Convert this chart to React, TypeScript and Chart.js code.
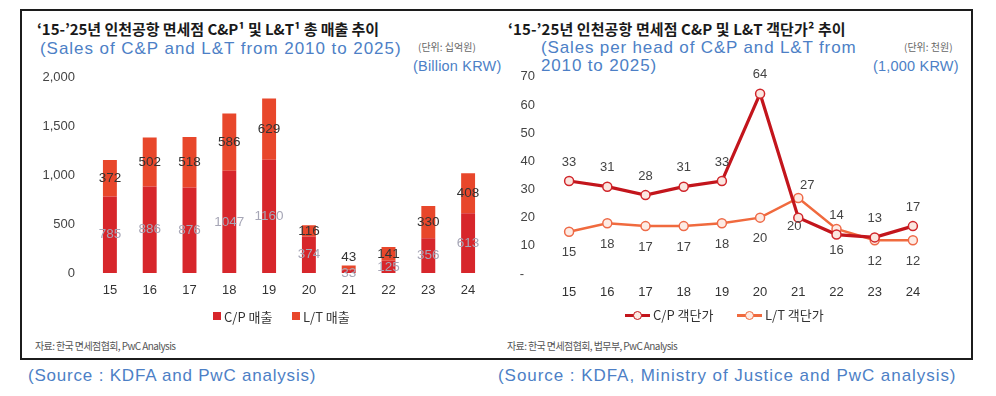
import React, { useEffect, useRef } from 'react';
import { Chart, registerables } from 'chart.js';

Chart.register(...registerables);

// ---------- data ----------
const years = ['15', '16', '17', '18', '19', '20', '21', '22', '23', '24'];
const cpSales = [785, 886, 876, 1047, 1160, 374, 33, 125, 356, 613];
const ltSales = [372, 502, 518, 586, 629, 116, 43, 141, 330, 408];
const salesTicks = [0, 500, 1000, 1500, 2000];
const cpPerHead = [33, 31, 28, 31, 33, 64, 20, 14, 13, 17];
const ltPerHead = [15, 18, 17, 17, 18, 20, 27, 16, 12, 12];
const perHeadTicks = [0, 10, 20, 30, 40, 50, 60, 70];

const KR = '"Noto Sans CJK KR", "Noto Sans", sans-serif';
const EN = '"Liberation Sans", Arial, sans-serif';
const BLUE = '#4d7fc6';

const CP_BAR = '#d7262b';
const LT_BAR = '#e8472b';
const CP_LINE = '#c3151c';
const LT_LINE = '#f06a3e';

const barLabelPlugin = {
  id: 'barLabels',
  afterDatasetsDraw(chart: any) {
    const ctx = chart.ctx;
    ctx.save();
    ctx.font = `13.5px ${EN}`;
    ctx.textAlign = 'center';
    ctx.textBaseline = 'middle';
    chart.data.datasets.forEach((ds: any, di: number) => {
      const meta = chart.getDatasetMeta(di);
      meta.data.forEach((el: any, i: number) => {
        const p = el.getProps(['x', 'y', 'base'], true);
        const h = p.base - p.y;
        let ty = (p.y + p.base) / 2;
        if (di === 1 && h < 10) ty = p.y - 8;
        if (di === 0 && h < 8) ty = p.base;
        ctx.fillStyle = di === 0 ? '#a6a6b6' : '#333333';
        ctx.fillText(String(ds.data[i]), p.x, ty);
      });
    });
    ctx.restore();
  },
};

const lineLabelPlugin = {
  id: 'lineLabels',
  afterDatasetsDraw(chart: any) {
    const ctx = chart.ctx;
    ctx.save();
    ctx.font = `13px ${EN}`;
    ctx.textAlign = 'center';
    ctx.textBaseline = 'middle';
    ctx.fillStyle = '#444444';
    chart.data.datasets.forEach((ds: any, di: number) => {
      const meta = chart.getDatasetMeta(di);
      meta.data.forEach((el: any, i: number) => {
        const p = el.getProps(['x', 'y'], true);
        let dx = 0;
        let dy = di === 0 ? -19 : 21;
        if (i === 6) {
          if (di === 0) { dx = -4; dy = 9; } else { dx = 9; dy = -13; }
        }
        ctx.fillText(String(ds.data[i]), p.x + dx, p.y + dy);
      });
    });
    ctx.restore();
  },
};

function SalesChart() {
  const ref = useRef<HTMLCanvasElement | null>(null);
  useEffect(() => {
    if (!ref.current) return;
    const chart = new Chart(ref.current, {
      type: 'bar',
      data: {
        labels: years,
        datasets: [
          { label: 'C/P 매출', data: cpSales, backgroundColor: CP_BAR, barPercentage: 0.35, categoryPercentage: 1 },
          { label: 'L/T 매출', data: ltSales, backgroundColor: LT_BAR, barPercentage: 0.35, categoryPercentage: 1 },
        ],
      },
      options: {
        animation: false,
        responsive: false,
        maintainAspectRatio: false,
        layout: { padding: { left: 0, right: 12, top: 10, bottom: 0 } },
        plugins: { legend: { display: false }, tooltip: { enabled: false } },
        scales: {
          x: {
            stacked: true,
            grid: { display: false, drawTicks: false },
            border: { display: false },
            ticks: { padding: 10, color: '#333', font: { size: 13, family: EN } },
            afterFit: (s: any) => { s.height = 32; },
          },
          y: {
            stacked: true,
            min: salesTicks[0],
            max: salesTicks[salesTicks.length - 1],
            grid: { display: false, drawTicks: false },
            border: { display: false },
            afterBuildTicks: (s: any) => { s.ticks = salesTicks.map((v) => ({ value: v })); },
            ticks: {
              padding: 15,
              color: '#444',
              font: { size: 13, family: EN },
              callback: (v: any) => Number(v).toLocaleString('en-US'),
            },
            afterFit: (s: any) => { s.width = 60; },
          },
        },
      },
      plugins: [barLabelPlugin],
    } as any);
    return () => chart.destroy();
  }, []);
  return <canvas ref={ref} width={470} height={250} style={{ position: 'absolute', left: 30, top: 55, width: 470, height: 250 }} />;
}

function PerHeadChart() {
  const ref = useRef<HTMLCanvasElement | null>(null);
  useEffect(() => {
    if (!ref.current) return;
    const chart = new Chart(ref.current, {
      type: 'line',
      data: {
        labels: years,
        datasets: [
          {
            label: 'C/P 객단가', data: cpPerHead, borderColor: CP_LINE, borderWidth: 3.2,
            pointRadius: 4.5, pointBackgroundColor: '#fbe6e0', pointBorderColor: '#d0262b', pointBorderWidth: 1.5,
            tension: 0,
          },
          {
            label: 'L/T 객단가', data: ltPerHead, borderColor: LT_LINE, borderWidth: 2.5,
            pointRadius: 4.5, pointBackgroundColor: '#fdebe4', pointBorderColor: '#ee6a48', pointBorderWidth: 1.5,
            tension: 0,
          },
        ],
      },
      options: {
        animation: false,
        responsive: false,
        maintainAspectRatio: false,
        layout: { padding: { left: 0, right: 28, top: 10, bottom: 0 } },
        plugins: { legend: { display: false }, tooltip: { enabled: false } },
        scales: {
          x: {
            grid: { display: false, drawTicks: false },
            border: { display: false },
            offset: true,
            ticks: { padding: 11, color: '#333', font: { size: 13, family: EN } },
            afterFit: (s: any) => { s.height = 32; },
          },
          y: {
            min: perHeadTicks[0],
            max: perHeadTicks[perHeadTicks.length - 1],
            grid: { display: false, drawTicks: false },
            border: { display: false },
            afterBuildTicks: (s: any) => { s.ticks = perHeadTicks.map((v) => ({ value: v })); },
            ticks: {
              padding: 15,
              color: '#444',
              font: { size: 13, family: EN },
              callback: (v: any) => (Number(v) === 0 ? '-   ' : String(v)),
            },
            afterFit: (s: any) => { s.width = 50; },
          },
        },
      },
      plugins: [lineLabelPlugin],
    } as any);
    return () => chart.destroy();
  }, []);
  return <canvas ref={ref} width={460} height={252} style={{ position: 'absolute', left: 500, top: 54, width: 460, height: 252 }} />;
}

function T(props: { x: number; cy: number; size: number; color: string; family: string; weight?: number; ls?: number; lh?: number; children: any }) {
  const lh = props.lh ?? props.size + 6;
  return (
    <div
      style={{
        position: 'absolute', left: props.x, top: props.cy - lh / 2, whiteSpace: 'nowrap',
        fontSize: props.size, lineHeight: `${lh}px`, color: props.color, fontFamily: props.family,
        fontWeight: props.weight ?? 400, letterSpacing: props.ls ?? 0,
      }}
    >
      {props.children}
    </div>
  );
}

function LineMarker(props: { x: number; cy: number; color: string }) {
  return (
    <div style={{ position: 'absolute', left: props.x, top: props.cy - 1.5, width: 25, height: 3, background: props.color }}>
      <div style={{ position: 'absolute', left: 8, top: -3, width: 9, height: 9, boxSizing: 'border-box', borderRadius: '50%', border: `1.5px solid ${props.color}`, background: '#fdebe4' }} />
    </div>
  );
}

export default function App() {
  return (
    <div style={{ position: 'absolute', left: 0, top: 0, width: 996, height: 396, background: '#fff', overflow: 'hidden' }}>
      <div style={{ position: 'absolute', left: 20, top: 9, width: 953, height: 351, border: '2px solid #1c1c1c', boxSizing: 'border-box' }} />

      <T x={37} cy={28} size={15} color="#1a1a1a" family={KR} weight={700} ls={-0.05}>‘15-’25년 인천공항 면세점 C&amp;P¹ 및 L&amp;T¹ 총 매출 추이</T>
      <T x={40} cy={48} size={17} color={BLUE} family={EN} ls={0.95}>(Sales of C&amp;P and L&amp;T from 2010 to 2025)</T>
      <T x={418} cy={47} size={10} color="#666" family={KR}>(단위: 십억원)</T>
      <T x={413} cy={66} size={14.5} color={BLUE} family={EN} ls={0.2}>(Billion KRW)</T>

      <T x={508} cy={28} size={15} color="#1a1a1a" family={KR} weight={700} ls={0.1}>‘15-’25년 인천공항 면세점 C&amp;P 및 L&amp;T 객단가² 추이</T>
      <div style={{ position: 'absolute', left: 541, top: 39, fontSize: 17, lineHeight: '18px', color: BLUE, fontFamily: EN, letterSpacing: 0.85, whiteSpace: 'nowrap' }}>
        (Sales per head of C&amp;P and L&amp;T from<br />2010 to 2025)
      </div>
      <T x={904} cy={47} size={10} color="#666" family={KR}>(단위: 천원)</T>
      <T x={873} cy={66} size={14.5} color={BLUE} family={EN} ls={0.2}>(1,000 KRW)</T>

      <SalesChart />
      <PerHeadChart />

      {/* left legend */}
      <div style={{ position: 'absolute', left: 213, top: 312, width: 8, height: 8, background: CP_BAR }} />
      <T x={224} cy={316} size={13} color="#333" family={KR}>C/P 매출</T>
      <div style={{ position: 'absolute', left: 292, top: 312, width: 8, height: 8, background: LT_BAR }} />
      <T x={303} cy={316} size={13} color="#333" family={KR}>L/T 매출</T>

      {/* right legend */}
      <LineMarker x={625} cy={315} color={CP_LINE} />
      <T x={653} cy={314} size={13} color="#333" family={KR}>C/P 객단가</T>
      <LineMarker x={737} cy={315} color={LT_LINE} />
      <T x={765} cy={314} size={13} color="#333" family={KR}>L/T 객단가</T>

      <T x={35} cy={346} size={10} color="#555" family={KR} ls={-0.6}>자료: 한국 면세점협회, PwC Analysis</T>
      <T x={507} cy={346} size={10} color="#555" family={KR} ls={-0.6}>자료: 한국 면세점협회, 법무부, PwC Analysis</T>

      <T x={28} cy={375} size={17} color={BLUE} family={EN} ls={0.8}>(Source : KDFA and PwC analysis)</T>
      <T x={498} cy={375} size={17} color={BLUE} family={EN} ls={0.95}>(Source : KDFA, Ministry of Justice and PwC analysis)</T>
    </div>
  );
}
